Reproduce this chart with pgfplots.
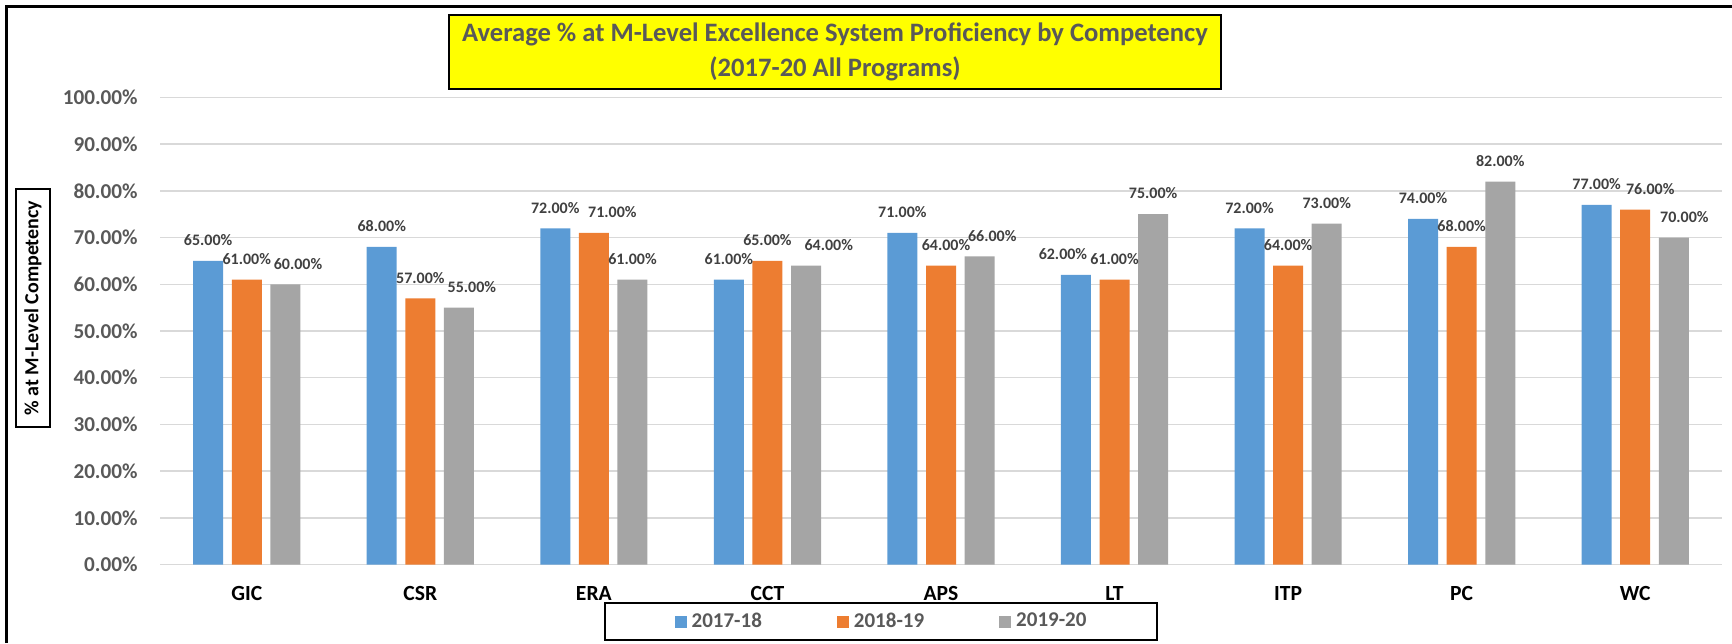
\documentclass[border=0pt]{standalone}
\usepackage{pgfplots}
\pgfplotsset{compat=1.18}
\usepackage{pgfplotstable}
\usepackage{fontspec}
\setmainfont{Carlito}
\definecolor{cblue}{HTML}{5B9BD5}
\definecolor{corange}{HTML}{ED7D31}
\definecolor{cgray}{HTML}{A5A5A5}
\definecolor{gridc}{HTML}{D9D9D9}
\definecolor{tickc}{HTML}{595959}
\definecolor{labc}{HTML}{404040}
\definecolor{ttlyellow}{HTML}{FFFF00}

\pgfplotstableread{
x y dx
0 65 0
1 68 0
2 72 0
3 61 0
4 71 0
5 62 -6.5
6 72 0
7 74 0
8 77 0
}\tblA
\pgfplotstableread{
x y dx
0 61 0
1 57 0
2 71 9.25
3 65 0
4 64 2.5
5 61 0
6 64 0
7 68 0
8 76 7.5
}\tblB
\pgfplotstableread{
x y dx
0 60 6.3
1 55 6.5
2 61 0
3 64 11.35
4 66 6.35
5 75 0
6 73 0
7 82 0
8 70 5.25
}\tblC

\begin{document}
\begin{tikzpicture}
\useasboundingbox (0pt,0pt) rectangle (866pt,321.5pt);
\draw[line width=1.5pt] (3.25pt,0pt) -- (3.25pt,318.25pt) -- (866pt,318.25pt);
\begin{axis}[
  at={(80pt,39.25pt)}, anchor=south west,
  scale only axis, width=781pt, height=233.5pt,
  xmin=-0.5, xmax=8.5, ymin=0, ymax=100,
  enlargelimits=false, clip=false,
  axis line style={draw=none},
  major tick length=0pt,
  ymajorgrids, grid style={gridc, line width=0.75pt},
  ytick={0,10,...,100},
  yticklabels={0.00\%,10.00\%,20.00\%,30.00\%,40.00\%,50.00\%,60.00\%,70.00\%,80.00\%,90.00\%,100.00\%},
  yticklabel style={font=\fontsize{10.6}{12}\selectfont\bfseries, text=tickc, anchor=east, inner sep=0pt, xshift=-11pt},
  xtick={0,...,8},
  xticklabels={GIC,CSR,ERA,CCT,APS,LT,ITP,PC,WC},
  xticklabel style={font=\fontsize{10.8}{12}\selectfont\bfseries, text=black, anchor=center, inner sep=0pt, yshift=-14.25pt},
  ybar=4.3pt, bar width=15pt,
  /pgf/number format/assume math mode=true,
  nodes near coords={\fontsize{8}{9}\selectfont\bfseries\pgfmathprintnumber[fixed,fixed zerofill,precision=2]{\pgfplotspointmeta}\%},
  visualization depends on={\thisrow{dx} \as \dx},
  every node near coord/.append style={text=labc, anchor=center, inner sep=0pt, yshift=10.35pt, xshift=\dx pt},
  legend columns=3,
  legend style={at={(0.4613,-0.1221)}, anchor=center, draw=black, line width=1pt, fill=white,
    text=tickc,
    inner xsep=35pt, inner ysep=4pt,
    nodes={inner xsep=0pt, inner ysep=1pt},
    /tikz/every odd column/.append style={column sep=2.5pt},
    /tikz/every even column/.append style={column sep=37.5pt}},
  legend image code/.code={\fill[#1] (0pt,-3pt) rectangle (6pt,3pt);},
]
\addplot[fill=cblue, draw=none] table[x=x,y=y] {\tblA};
\addlegendentry{\fontsize{10.5}{12}\selectfont\bfseries 2017-18}
\addplot[fill=corange, draw=none] table[x=x,y=y] {\tblB};
\addlegendentry{\fontsize{10.5}{12}\selectfont\bfseries 2018-19}
\addplot[fill=cgray, draw=none] table[x=x,y=y] {\tblC};
\addlegendentry{\fontsize{10.5}{12}\selectfont\bfseries 2019-20}
\end{axis}
\node[fill=ttlyellow, draw=black, line width=1pt, minimum width=386pt, minimum height=37pt, inner sep=0pt,
  align=center, text=tickc, font=\fontsize{13.3}{17.5}\selectfont\bfseries] at (417.5pt,295.5pt)
  {Average \% at M-Level Excellence System Proficiency by Competency\\(2017-20 All Programs)};
\node[rotate=90, draw=black, line width=0.75pt, minimum width=119pt, minimum height=17pt, inner sep=0pt,
  font=\fontsize{10}{11}\selectfont\bfseries] at (16.5pt,167.5pt) {\% at M-Level Competency};
\end{tikzpicture}
\end{document}
